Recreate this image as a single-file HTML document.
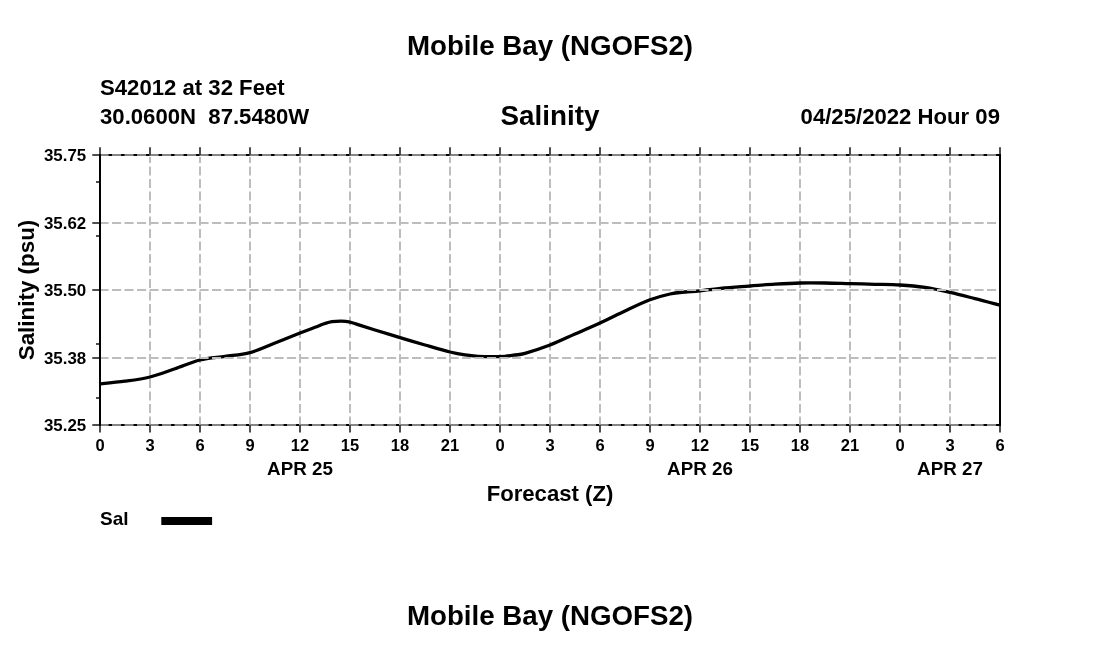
<!DOCTYPE html>
<html lang="en"><head><meta charset="utf-8"><title>Mobile Bay (NGOFS2) Salinity</title>
<style>html,body{margin:0;padding:0;background:#fff}body{width:1100px;height:650px;overflow:hidden}svg{display:block}text{font-family:"Liberation Sans",Arial,Helvetica,sans-serif;font-weight:700;fill:#000}</style>
</head><body>
<svg width="1100" height="650" viewBox="0 0 1100 650">
<rect width="1100" height="650" fill="#fff"/>
<g stroke="#000" stroke-width="2">
<line x1="100" y1="155" x2="1000" y2="155"/><line x1="100" y1="425" x2="1000" y2="425"/>
</g>
<g stroke="#bdbdbd" stroke-width="2" stroke-dasharray="9.1 3.4" fill="none">
<line x1="150" y1="425.5" x2="150" y2="156.9"/>
<line x1="200" y1="425.5" x2="200" y2="156.9"/>
<line x1="250" y1="425.5" x2="250" y2="156.9"/>
<line x1="300" y1="425.5" x2="300" y2="156.9"/>
<line x1="350" y1="425.5" x2="350" y2="156.9"/>
<line x1="400" y1="425.5" x2="400" y2="156.9"/>
<line x1="450" y1="425.5" x2="450" y2="156.9"/>
<line x1="500" y1="425.5" x2="500" y2="156.9"/>
<line x1="550" y1="425.5" x2="550" y2="156.9"/>
<line x1="600" y1="425.5" x2="600" y2="156.9"/>
<line x1="650" y1="425.5" x2="650" y2="156.9"/>
<line x1="700" y1="425.5" x2="700" y2="156.9"/>
<line x1="750" y1="425.5" x2="750" y2="156.9"/>
<line x1="800" y1="425.5" x2="800" y2="156.9"/>
<line x1="850" y1="425.5" x2="850" y2="156.9"/>
<line x1="900" y1="425.5" x2="900" y2="156.9"/>
<line x1="950" y1="425.5" x2="950" y2="156.9"/>
</g>
<path d="M100.0 383.8 C104.2 383.4 116.7 382.3 125.0 381.2 C133.3 380.1 141.7 379.1 150.0 377.0 C158.3 374.9 166.7 371.6 175.0 368.8 C183.3 366.0 191.7 362.1 200.0 360.0 C208.3 357.9 216.7 357.6 225.0 356.4 C233.3 355.2 241.7 354.8 250.0 352.6 C258.3 350.4 266.7 346.3 275.0 343.0 C283.3 339.7 293.3 335.6 300.0 333.0 C306.7 330.4 310.8 328.9 315.0 327.3 C319.2 325.7 322.2 324.4 325.0 323.5 C327.8 322.6 329.3 322.1 332.0 321.7 C334.7 321.3 338.2 321.2 341.0 321.2 C343.8 321.2 346.2 321.2 349.0 321.8 C351.8 322.4 353.7 323.2 358.0 324.6 C362.3 326.0 368.0 327.8 375.0 330.0 C382.0 332.2 391.7 335.1 400.0 337.6 C408.3 340.1 416.7 342.6 425.0 345.0 C433.3 347.4 443.3 350.4 450.0 352.0 C456.7 353.6 460.3 354.2 465.0 354.9 C469.7 355.6 473.5 356.0 478.0 356.3 C482.5 356.6 487.5 356.7 492.0 356.7 C496.5 356.7 501.2 356.6 505.0 356.3 C508.8 356.0 511.7 355.5 515.0 355.0 C518.3 354.5 519.2 355.1 525.0 353.4 C530.8 351.7 541.7 348.2 550.0 345.0 C558.3 341.8 566.7 337.7 575.0 334.0 C583.3 330.3 591.7 326.8 600.0 323.0 C608.3 319.2 616.7 314.9 625.0 311.0 C633.3 307.1 642.5 302.6 650.0 299.8 C657.5 297.0 664.2 295.3 670.0 294.0 C675.8 292.7 680.0 292.5 685.0 292.0 C690.0 291.5 693.3 291.5 700.0 290.8 C706.7 290.1 716.7 288.8 725.0 288.0 C733.3 287.2 741.7 286.6 750.0 286.0 C758.3 285.4 766.7 284.7 775.0 284.2 C783.3 283.7 791.7 283.2 800.0 283.0 C808.3 282.8 816.7 282.9 825.0 283.0 C833.3 283.1 841.7 283.4 850.0 283.6 C858.3 283.8 866.7 284.1 875.0 284.3 C883.3 284.5 891.7 284.5 900.0 285.0 C908.3 285.5 916.7 286.2 925.0 287.4 C933.3 288.6 941.7 290.5 950.0 292.4 C958.3 294.3 966.7 296.5 975.0 298.6 C983.3 300.7 995.8 304.1 1000.0 305.2" fill="none" stroke="#000" stroke-width="3.3" stroke-linejoin="round"/>
<g stroke="#bdbdbd" stroke-width="2" stroke-dasharray="9.1 3.4" fill="none">
<line x1="99.5" y1="223" x2="1000" y2="223"/>
<line x1="99.5" y1="290" x2="1000" y2="290"/>
<line x1="99.5" y1="358" x2="1000" y2="358"/>
</g>
<g stroke="#868686" stroke-width="2" stroke-dasharray="9.1 3.4" fill="none">
<line x1="99.5" y1="155" x2="1000" y2="155"/><line x1="99.5" y1="425" x2="1000" y2="425"/>
</g>
<g stroke="#3a3a3a" stroke-width="1.8">
<line x1="100" y1="147.2" x2="100" y2="155"/><line x1="100" y1="425" x2="100" y2="432.4"/>
<line x1="150" y1="147.2" x2="150" y2="155"/><line x1="150" y1="425" x2="150" y2="432.4"/>
<line x1="200" y1="147.2" x2="200" y2="155"/><line x1="200" y1="425" x2="200" y2="432.4"/>
<line x1="250" y1="147.2" x2="250" y2="155"/><line x1="250" y1="425" x2="250" y2="432.4"/>
<line x1="300" y1="147.2" x2="300" y2="155"/><line x1="300" y1="425" x2="300" y2="432.4"/>
<line x1="350" y1="147.2" x2="350" y2="155"/><line x1="350" y1="425" x2="350" y2="432.4"/>
<line x1="400" y1="147.2" x2="400" y2="155"/><line x1="400" y1="425" x2="400" y2="432.4"/>
<line x1="450" y1="147.2" x2="450" y2="155"/><line x1="450" y1="425" x2="450" y2="432.4"/>
<line x1="500" y1="147.2" x2="500" y2="155"/><line x1="500" y1="425" x2="500" y2="432.4"/>
<line x1="550" y1="147.2" x2="550" y2="155"/><line x1="550" y1="425" x2="550" y2="432.4"/>
<line x1="600" y1="147.2" x2="600" y2="155"/><line x1="600" y1="425" x2="600" y2="432.4"/>
<line x1="650" y1="147.2" x2="650" y2="155"/><line x1="650" y1="425" x2="650" y2="432.4"/>
<line x1="700" y1="147.2" x2="700" y2="155"/><line x1="700" y1="425" x2="700" y2="432.4"/>
<line x1="750" y1="147.2" x2="750" y2="155"/><line x1="750" y1="425" x2="750" y2="432.4"/>
<line x1="800" y1="147.2" x2="800" y2="155"/><line x1="800" y1="425" x2="800" y2="432.4"/>
<line x1="850" y1="147.2" x2="850" y2="155"/><line x1="850" y1="425" x2="850" y2="432.4"/>
<line x1="900" y1="147.2" x2="900" y2="155"/><line x1="900" y1="425" x2="900" y2="432.4"/>
<line x1="950" y1="147.2" x2="950" y2="155"/><line x1="950" y1="425" x2="950" y2="432.4"/>
<line x1="1000" y1="147.2" x2="1000" y2="155"/><line x1="1000" y1="425" x2="1000" y2="432.4"/>
<line x1="92.3" y1="155" x2="100" y2="155"/>
<line x1="92.3" y1="223" x2="100" y2="223"/>
<line x1="92.3" y1="290" x2="100" y2="290"/>
<line x1="92.3" y1="358" x2="100" y2="358"/>
<line x1="92.3" y1="425" x2="100" y2="425"/>
<line x1="96" y1="182" x2="100" y2="182"/>
<line x1="96" y1="236" x2="100" y2="236"/>
<line x1="96" y1="344" x2="100" y2="344"/>
<line x1="96" y1="398" x2="100" y2="398"/>
</g>
<g stroke="#000" stroke-width="2">
<line x1="100" y1="154" x2="100" y2="426"/><line x1="1000" y1="154" x2="1000" y2="426"/>
</g>
<text x="550" y="55" font-size="27.7" text-anchor="middle">Mobile Bay (NGOFS2)</text>
<text x="550" y="625" font-size="27.7" text-anchor="middle">Mobile Bay (NGOFS2)</text>
<text x="550" y="124.6" font-size="27.8" text-anchor="middle">Salinity</text>
<text x="100" y="94.6" font-size="22.15">S42012 at 32 Feet</text>
<text x="100" y="124.4" font-size="22.15" xml:space="preserve">30.0600N  87.5480W</text>
<text x="1000" y="124.4" font-size="22.15" text-anchor="end">04/25/2022 Hour 09</text>
<g font-size="16.9" text-anchor="end">
<text x="86.2" y="160.9">35.75</text>
<text x="86.2" y="228.9">35.62</text>
<text x="86.2" y="295.9">35.50</text>
<text x="86.2" y="363.9">35.38</text>
<text x="86.2" y="430.9">35.25</text>
</g>
<g font-size="16.5" text-anchor="middle">
<text x="100" y="451.2">0</text>
<text x="150" y="451.2">3</text>
<text x="200" y="451.2">6</text>
<text x="250" y="451.2">9</text>
<text x="300" y="451.2">12</text>
<text x="350" y="451.2">15</text>
<text x="400" y="451.2">18</text>
<text x="450" y="451.2">21</text>
<text x="500" y="451.2">0</text>
<text x="550" y="451.2">3</text>
<text x="600" y="451.2">6</text>
<text x="650" y="451.2">9</text>
<text x="700" y="451.2">12</text>
<text x="750" y="451.2">15</text>
<text x="800" y="451.2">18</text>
<text x="850" y="451.2">21</text>
<text x="900" y="451.2">0</text>
<text x="950" y="451.2">3</text>
<text x="1000" y="451.2">6</text>
</g>
<g font-size="18.8" text-anchor="middle">
<text x="300" y="474.6">APR 25</text><text x="700" y="474.6">APR 26</text><text x="950" y="474.6">APR 27</text>
</g>
<text x="550" y="500.6" font-size="22.15" text-anchor="middle">Forecast (Z)</text>
<text transform="translate(33.7 290) rotate(-90)" font-size="22.4" text-anchor="middle">Salinity (psu)</text>
<text x="100" y="525" font-size="19">Sal</text>
<rect x="161.3" y="517" width="50.8" height="8" fill="#000"/>
</svg>
</body></html>
